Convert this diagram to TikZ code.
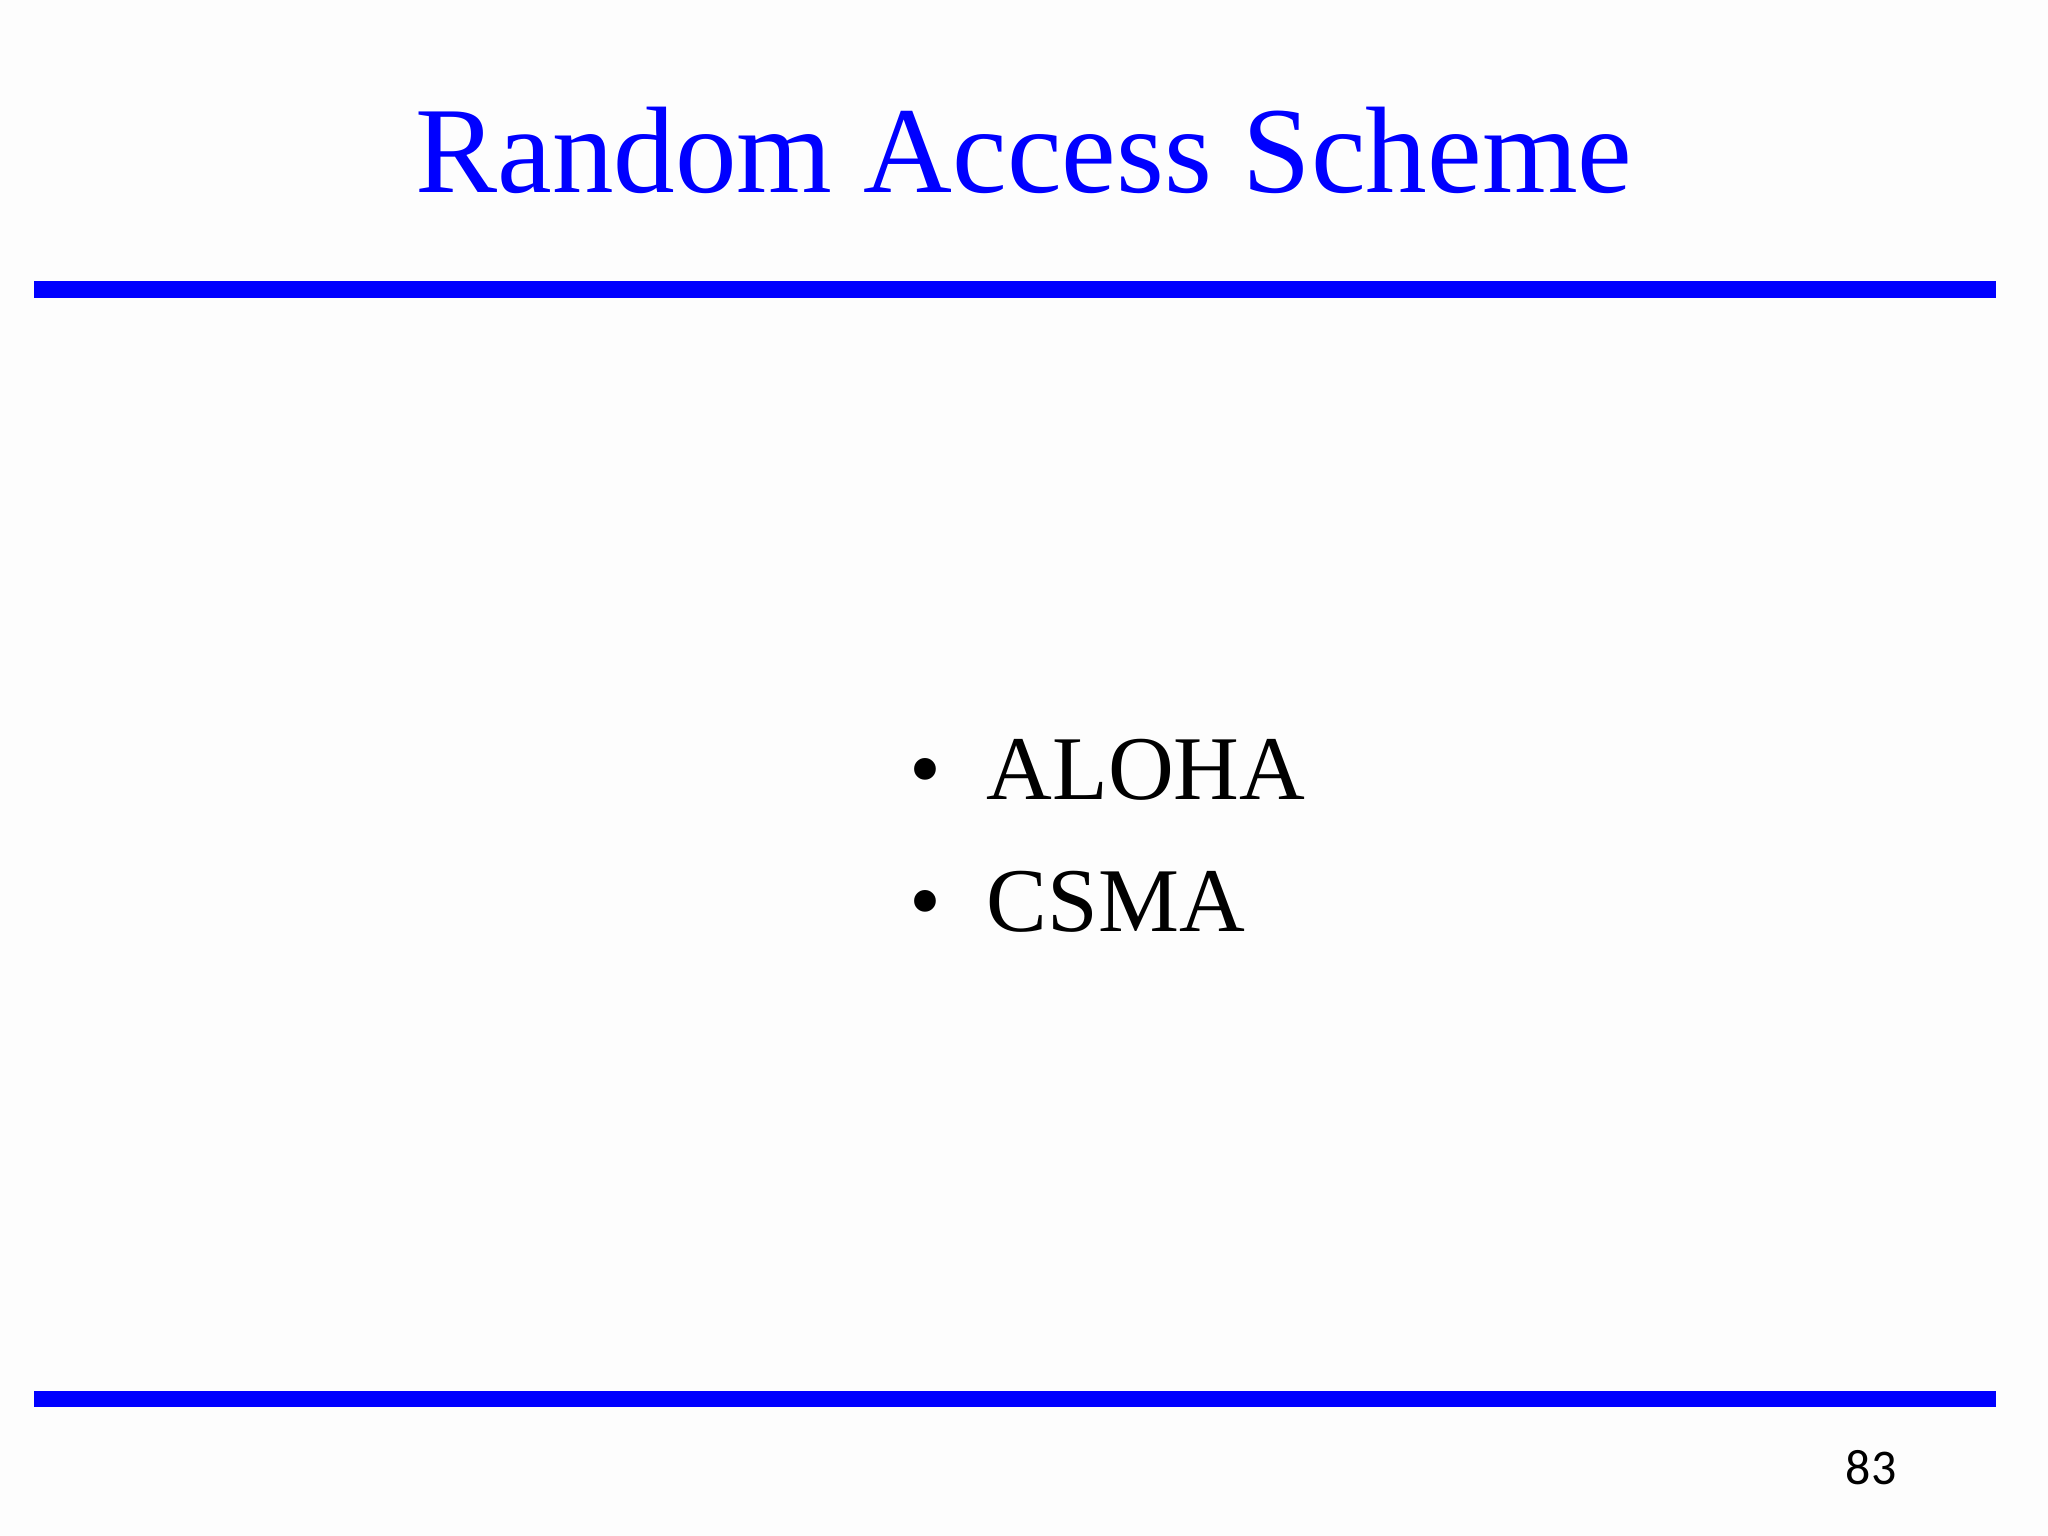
\documentclass[tikz,border=0pt]{standalone}
\usepackage{fontspec}
\setmainfont{Liberation Serif}
\newfontfamily\pagefont{Carlito}
\definecolor{titleblue}{RGB}{0,0,255}
\begin{document}
\begin{tikzpicture}[x=0.01cm,y=-0.01cm,
  bar/.style={fill=titleblue,draw=none},
  item/.style={anchor=base west,inner sep=0,font=\fontsize{25.9}{30}\selectfont}]
\fill[fill={rgb,255:red,253;green,253;blue,253}] (0,0) rectangle (2048,1536);
\useasboundingbox (0,0) rectangle (2048,1536);
\node[anchor=base,inner sep=0,text=titleblue,font=\fontsize{35}{40}\selectfont] (title) at (1024,192) {Random Access Scheme};
\fill[bar] (34,281) rectangle (1996,298);
\fill[bar] (34,1391) rectangle (1996,1407);
\node[item] (b1) at (909,799) {•};
\node[item] (i1) at (986,799) {ALOHA};
\node[item] (b2) at (909,931) {•};
\node[item] (i2) at (986,931) {CSMA};
\node[anchor=base east,inner sep=0,font=\pagefont\fontsize{14.2}{18}\selectfont] (pg) at (1897,1484) {83};
\end{tikzpicture}
\end{document}
